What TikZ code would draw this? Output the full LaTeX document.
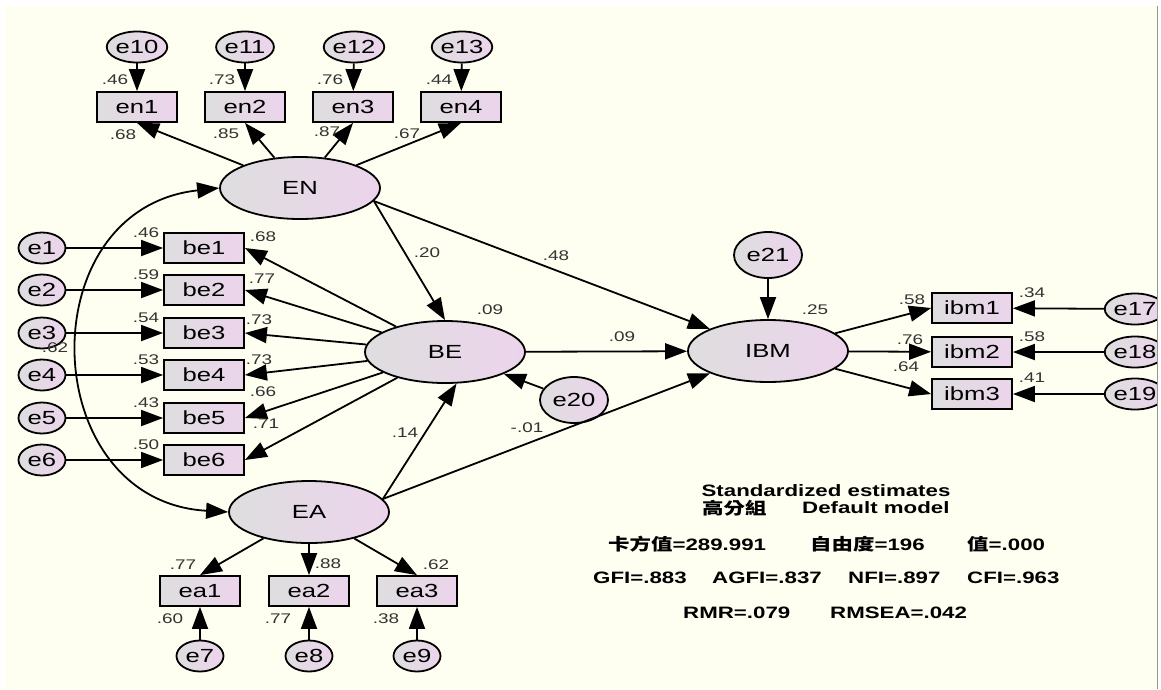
\documentclass[tikz,border=0pt]{standalone}
\usepackage{fontspec}
\setmainfont{Liberation Sans}[FakeStretch=1.35]
\newfontfamily\cjkfont{Noto Sans CJK TC}[FakeStretch=1.3]
\usetikzlibrary{arrows.meta,shapes.geometric}
\definecolor{paper}{RGB}{254,255,240}
\definecolor{shadeL}{RGB}{222,222,222}
\definecolor{shadeR}{RGB}{236,212,236}
\definecolor{edgegray}{RGB}{150,150,140}

\begin{document}
\begin{tikzpicture}[x=1pt,y=-1pt,
  base/.style={draw=black, line width=1.8pt, left color=shadeL, right color=shadeR,
    inner sep=0pt, font=\fontsize{19}{22}\selectfont},
  obs/.style={base, rectangle, minimum width=80pt, minimum height=30pt},
  lat/.style={base, ellipse, minimum width=160pt, minimum height=62pt},
  err/.style={base, ellipse, minimum width=47pt, minimum height=31pt},
  errbig/.style={base, ellipse, minimum width=68pt, minimum height=46pt},
  tip/.tip={Triangle[length=22pt,width=16pt]},
  link/.style={line width=1.8pt, -tip},
  lbl/.style={font=\fontsize{14}{16}\selectfont, text=black!80, inner sep=0pt},
  fitnote/.style={font=\bfseries\fontsize{16.5}{19}\selectfont, inner sep=0pt, anchor=west}
]
\useasboundingbox (0,0) rectangle (1161,689);
\fill[white] (0,0) rectangle (1161,689);
\fill[paper] (5,6) rectangle (1157,689);

% ---------- EN block ----------
\node[err] (e10) at (137,47) {e10};
\node[err] (e11) at (245,47) {e11};
\node[err] (e12) at (354,47) {e12};
\node[err] (e13) at (462,47) {e13};
\node[obs] (en1) at (137,107) {en1};
\node[obs] (en2) at (245,107) {en2};
\node[obs] (en3) at (353,107) {en3};
\node[obs] (en4) at (461,107) {en4};
\node[lat] (EN) at (300,188) {EN};

% ---------- BE block ----------
\foreach \i/\y in {1/248,2/290,3/333,4/375,5/418,6/460}{
  \node[err] (e\i) at (42,\y) {e\i};
  \node[obs] (be\i) at (204,\y) {be\i};
}
\node[lat] (BE) at (445,352) {BE};
\node[errbig] (e20) at (574,400) {e20};

% ---------- EA block ----------
\node[lat] (EA) at (309,512) {EA};
\node[obs] (ea1) at (200,591) {ea1};
\node[obs] (ea2) at (309,591) {ea2};
\node[obs] (ea3) at (417,591) {ea3};
\node[err] (e7) at (200,656) {e7};
\node[err] (e8) at (309,656) {e8};
\node[err] (e9) at (417,656) {e9};

% ---------- IBM block ----------
\node[lat] (IBM) at (768,351) {IBM};
\node[errbig] (e21) at (768,255) {e21};
\node[obs] (ibm1) at (972,308) {ibm1};
\node[obs] (ibm2) at (972,352) {ibm2};
\node[obs] (ibm3) at (972,394) {ibm3};
\node[err] (e17) at (1135,309) {e17};
\node[err] (e18) at (1135,352) {e18};
\node[err] (e19) at (1135,394) {e19};

% ---------- paths ----------
\foreach \e/\m in {e10/en1,e11/en2,e12/en3,e13/en4}{ \draw[link] (\e) -- (\m); }
\foreach \m in {en1,en2,en3,en4}{ \draw[link] (EN) -- (\m.south); }
\foreach \i in {1,...,6}{
  \draw[link] (e\i) -- (be\i);
  \draw[link] (BE) -- (be\i.east);
}
\draw[link] (EN.-10) -- (BE.north);
\draw[link] (EN.-10) -- (IBM);
\draw[link] (BE) -- (IBM);
\draw[link] (e20) -- (BE);
\draw[link] (EA.10) -- (BE.290);
\draw[link] (EA.10) -- (IBM);
\draw[link] (EA) -- (ea1.north);
\draw[link] (EA) -- (ea2);
\draw[link] (EA) -- (ea3.north);
\foreach \e/\m in {e7/ea1,e8/ea2,e9/ea3}{ \draw[link] (\e) -- (\m); }
\draw[link] (e21) -- (IBM);
\draw[link] (IBM) -- (ibm1.west);
\draw[link] (IBM) -- (ibm2);
\draw[link] (IBM) -- (ibm3.west);
\foreach \e/\m in {e17/ibm1,e18/ibm2,e19/ibm3}{ \draw[link] (\e) -- (\m); }
% covariance between EN and EA
\draw[line width=1.8pt, tip-tip] (EN.west) .. controls (28,209) and (36,501) .. (EA.west);

% ---------- estimates ----------
\node[lbl] (r10) at (115,80) {.46};
\node[lbl] (r11) at (222,80) {.73};
\node[lbl] (r12) at (330,80) {.76};
\node[lbl] (r13) at (439,80) {.44};
\node[lbl] (w1) at (123,135) {.68};
\node[lbl] (w2) at (226,134) {.85};
\node[lbl] (w3) at (327,132) {.87};
\node[lbl] (w4) at (407,134) {.67};

\node[lbl] (s1) at (146,233) {.46};
\node[lbl] (s2) at (146,275) {.59};
\node[lbl] (s3) at (146,318) {.54};
\node[lbl] (s4) at (146,360) {.53};
\node[lbl] (s5) at (146,403) {.43};
\node[lbl] (s6) at (146,445) {.50};
\node[lbl] (b1) at (263,237) {.68};
\node[lbl] (b2) at (262,279) {.77};
\node[lbl] (b3) at (259,320) {.73};
\node[lbl] (b4) at (259,360) {.73};
\node[lbl] (b5) at (263,392) {.66};
\node[lbl] (b6) at (266,424) {.71};
\node[lbl] (cov) at (55,348) {.62};

\node[lbl] (p1) at (427,253) {.20};
\node[lbl] (p2) at (556,256) {.48};
\node[lbl] (rBE) at (490,310) {.09};
\node[lbl] (p3) at (622,337) {.09};
\node[lbl] (p4) at (405,433) {.14};
\node[lbl] (p5) at (527,428) {-.01};
\node[lbl] (rIBM) at (815,310) {.25};

\node[lbl] (i1) at (912,300) {.58};
\node[lbl] (i2) at (910,340) {.76};
\node[lbl] (i3) at (906,367) {.64};
\node[lbl] (q1) at (1032,293) {.34};
\node[lbl] (q2) at (1032,337) {.58};
\node[lbl] (q3) at (1032,378) {.41};

\node[lbl] (a1) at (183,565) {.77};
\node[lbl] (a2) at (328,564) {.88};
\node[lbl] (a3) at (436,565) {.62};
\node[lbl] (u1) at (170,619) {.60};
\node[lbl] (u2) at (278,619) {.77};
\node[lbl] (u3) at (386,619) {.38};

% ---------- fit summary ----------
\node[fitnote, anchor=center] (t0) at (826,491) {Standardized estimates};
\node[fitnote] (t1) at (702,508) {\cjkfont 高分組};
\node[fitnote] (t2) at (802,508) {Default model};
\node[fitnote] (t3) at (608,544) {{\cjkfont 卡方值}=289.991};
\node[fitnote] (t4) at (810,544) {{\cjkfont 自由度}=196};
\node[fitnote] (t5) at (967,544) {{\cjkfont 值}=.000};
\node[fitnote] (t6) at (593,578) {GFI=.883};
\node[fitnote] (t7) at (712,578) {AGFI=.837};
\node[fitnote] (t8) at (848,578) {NFI=.897};
\node[fitnote] (t9) at (967,578) {CFI=.963};
\node[fitnote] (t10) at (683,613) {RMR=.079};
\node[fitnote] (t11) at (830,613) {RMSEA=.042};

% right frame edge
\fill[white] (1158,0) rectangle (1161,689);
\draw[edgegray, line width=1.5pt] (1157.5,6) -- (1157.5,689);
\end{tikzpicture}
\end{document}
